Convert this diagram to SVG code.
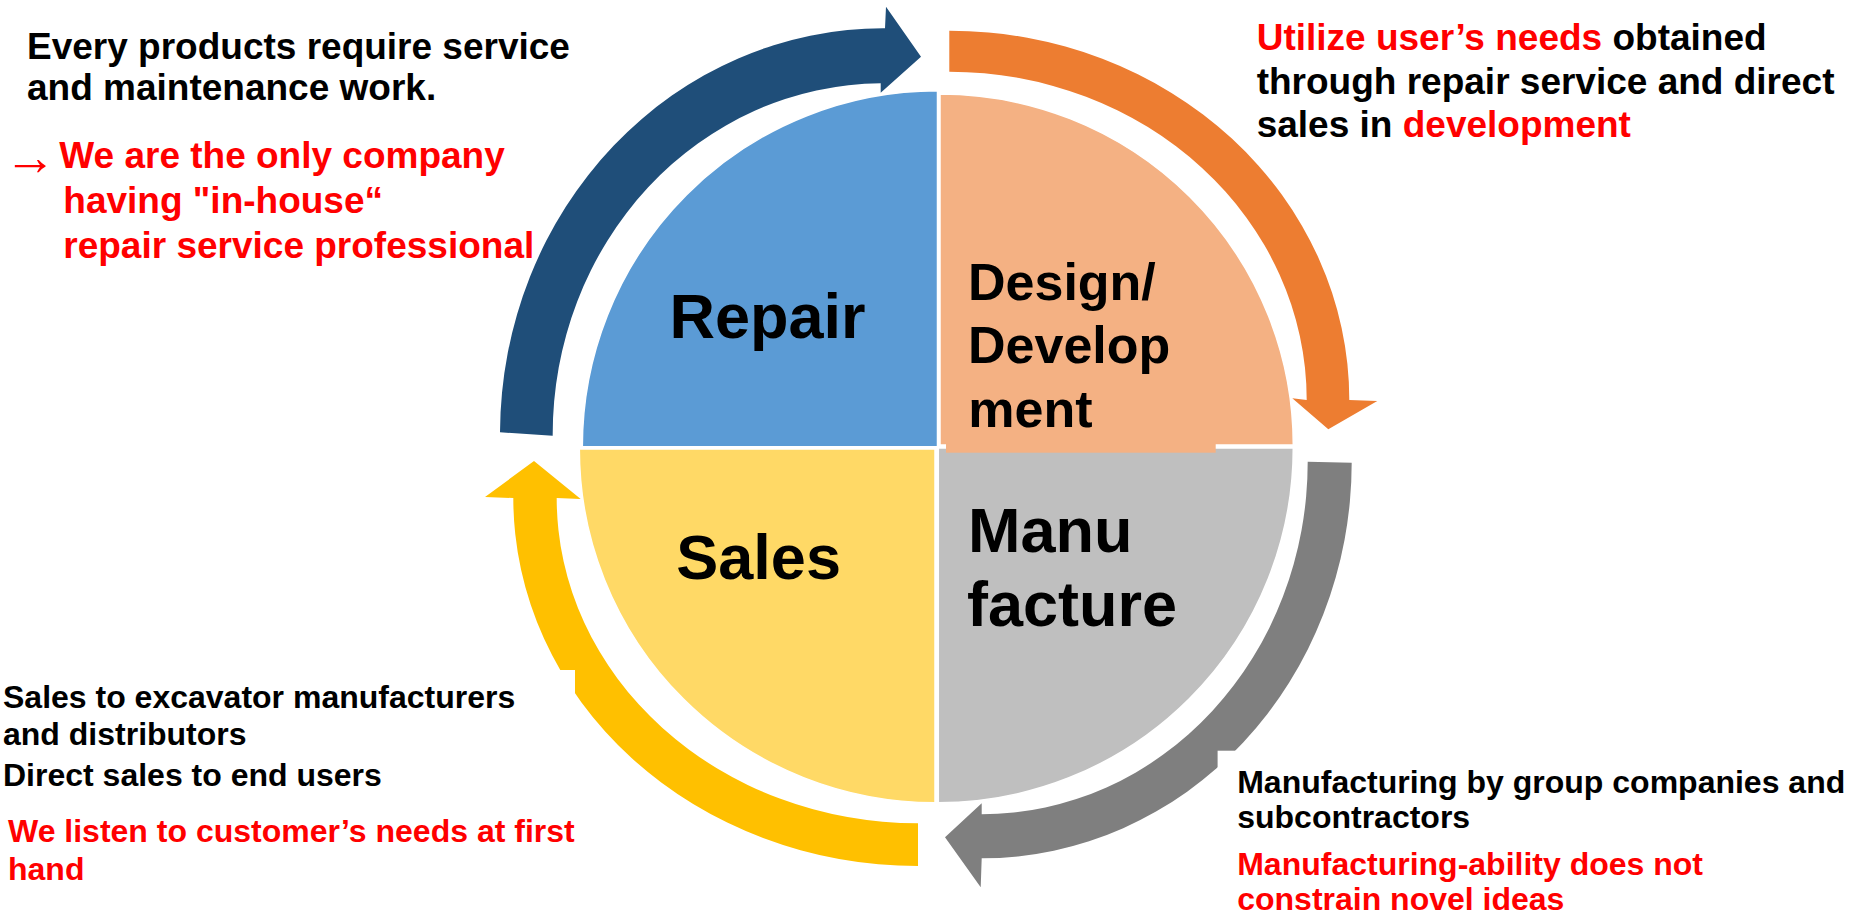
<svg xmlns="http://www.w3.org/2000/svg" width="1863" height="915" viewBox="0 0 1863 915">
<style>
  .q { stroke: #FFFFFF; stroke-width: 1.5; }
  .lbl { font-family: "Liberation Sans", Arial, sans-serif; font-weight: bold; fill: #000000; }
  .big { font-size: 63px; }
  .mid { font-size: 52px; }
  .t37 { font-family: "Liberation Sans", Arial, sans-serif; font-weight: bold; font-size: 37px; fill: #000000; }
  .t32 { font-family: "Liberation Sans", Arial, sans-serif; font-weight: bold; font-size: 32px; fill: #000000; }
  .red { fill: #FF0000; }
  .arr { stroke: none; }
</style>
<rect width="1863" height="915" fill="#FFFFFF"/>

<g id="connectors">
  <path id="arrow-repair-to-design" class="arr" fill="#1F4E79" d="M 500,432.3 A 383 406 0 0 1 885,28.3 L 886,6.7 L 921,56.7 L 880.7,92.7 L 880.7,83.3 A 330 351 0 0 0 552.7,435.7 Z"/>
  <path id="arrow-design-to-manufacture" class="arr" fill="#ED7D31" d="M 949.3,30.7 A 400 369.3 0 0 1 1349.3,400 L 1377.3,401 L 1328.3,429.3 L 1292.3,398.3 L 1306.7,400 A 357.7 328.3 0 0 0 949.3,71.7 Z"/>
  <path id="arrow-manufacture-to-sales" class="arr" fill="#7F7F7F" d="M 1351.7,462.7 A 370 396 0 0 1 981.7,858.3 L 980.7,887.3 L 945,837.3 L 981.7,803.3 L 981.7,814.3 A 326 352.3 0 0 0 1307.7,461.7 Z"/>
  <path id="arrow-sales-to-repair" class="arr" fill="#FFC000" d="M 918,866 A 404.7 368 0 0 1 513.3,498 L 485,497 L 534,461 L 580.7,499 L 556.7,498 A 361.3 325.3 0 0 0 918,823.3 Z"/>
</g>

<g id="repair">
  <path class="q" fill="#5B9BD5" d="M 937.5,446.7 L 582.3,446.7 A 355.2 356 0 0 1 937.5,90.7 Z"/>
  <text class="lbl big" x="669.4" y="338.3">Repair</text>
</g>

<g id="manufacture">
  <path class="q" fill="#BFBFBF" d="M 938.3,448 L 1293.3,448 A 355 354.7 0 0 1 938.3,802.7 Z"/>
  <text class="lbl big" x="968" y="552">Manu</text>
  <text class="lbl big" x="967" y="626">facture</text>
</g>

<g id="design">
  <path class="q" fill="#F4B183" d="M 940,445 L 940,94 A 353.3 351 0 0 1 1293.3,445 Z"/>
  <rect x="946" y="443" width="269.7" height="9.7" fill="#F4B183"/>
  <text class="lbl mid" x="968" y="300">Design/</text>
  <text class="lbl mid" x="968" y="363">Develop</text>
  <text class="lbl mid" x="968.3" y="426.7">ment</text>
</g>

<g id="sales">
  <path class="q" fill="#FFD966" d="M 935,449 L 579.3,449 A 355.7 353.7 0 0 0 935,802.7 Z"/>
  <text class="lbl big" x="676.3" y="579">Sales</text>
</g>

<g id="note-repair">
  <text class="t37" x="27" y="59.3">Every products require service</text>
  <text class="t37" x="27" y="100">and maintenance work.</text>
  <text x="4" y="175" font-family="Liberation Sans, DejaVu Sans, sans-serif" font-size="52" fill="#FF0000">→</text>
  <text class="t37 red" x="59.3" y="168.3">We are the only company</text>
  <text class="t37 red" x="63.3" y="213.3">having "in-house“</text>
  <text class="t37 red" x="63.3" y="258.3">repair service professional</text>
</g>

<g id="note-design">
  <text class="t37" x="1256.7" y="50"><tspan class="red">Utilize user’s needs</tspan> obtained</text>
  <text class="t37" x="1256.7" y="94.3">through repair service and direct</text>
  <text class="t37" x="1256.7" y="136.7">sales in <tspan class="red">development</tspan></text>
</g>

<g id="note-sales">
  <rect x="0" y="670" width="575" height="130" fill="#FFFFFF"/>
  <text class="t32" x="3" y="708.3">Sales to excavator manufacturers</text>
  <text class="t32" x="3" y="745">and distributors</text>
  <text class="t32" x="3" y="786">Direct sales to end users</text>
  <text class="t32 red" x="8" y="841.7">We listen to customer’s needs at first</text>
  <text class="t32 red" x="8" y="880">hand</text>
</g>

<g id="note-manufacture">
  <rect x="1217.6" y="750.7" width="645.4" height="164.3" fill="#FFFFFF"/>
  <text class="t32" x="1237.2" y="793.3">Manufacturing by group companies and</text>
  <text class="t32" x="1237.2" y="828.3">subcontractors</text>
  <text class="t32 red" x="1237.2" y="875">Manufacturing-ability does not</text>
  <text class="t32 red" x="1237.2" y="910">constrain novel ideas</text>
</g>
</svg>
